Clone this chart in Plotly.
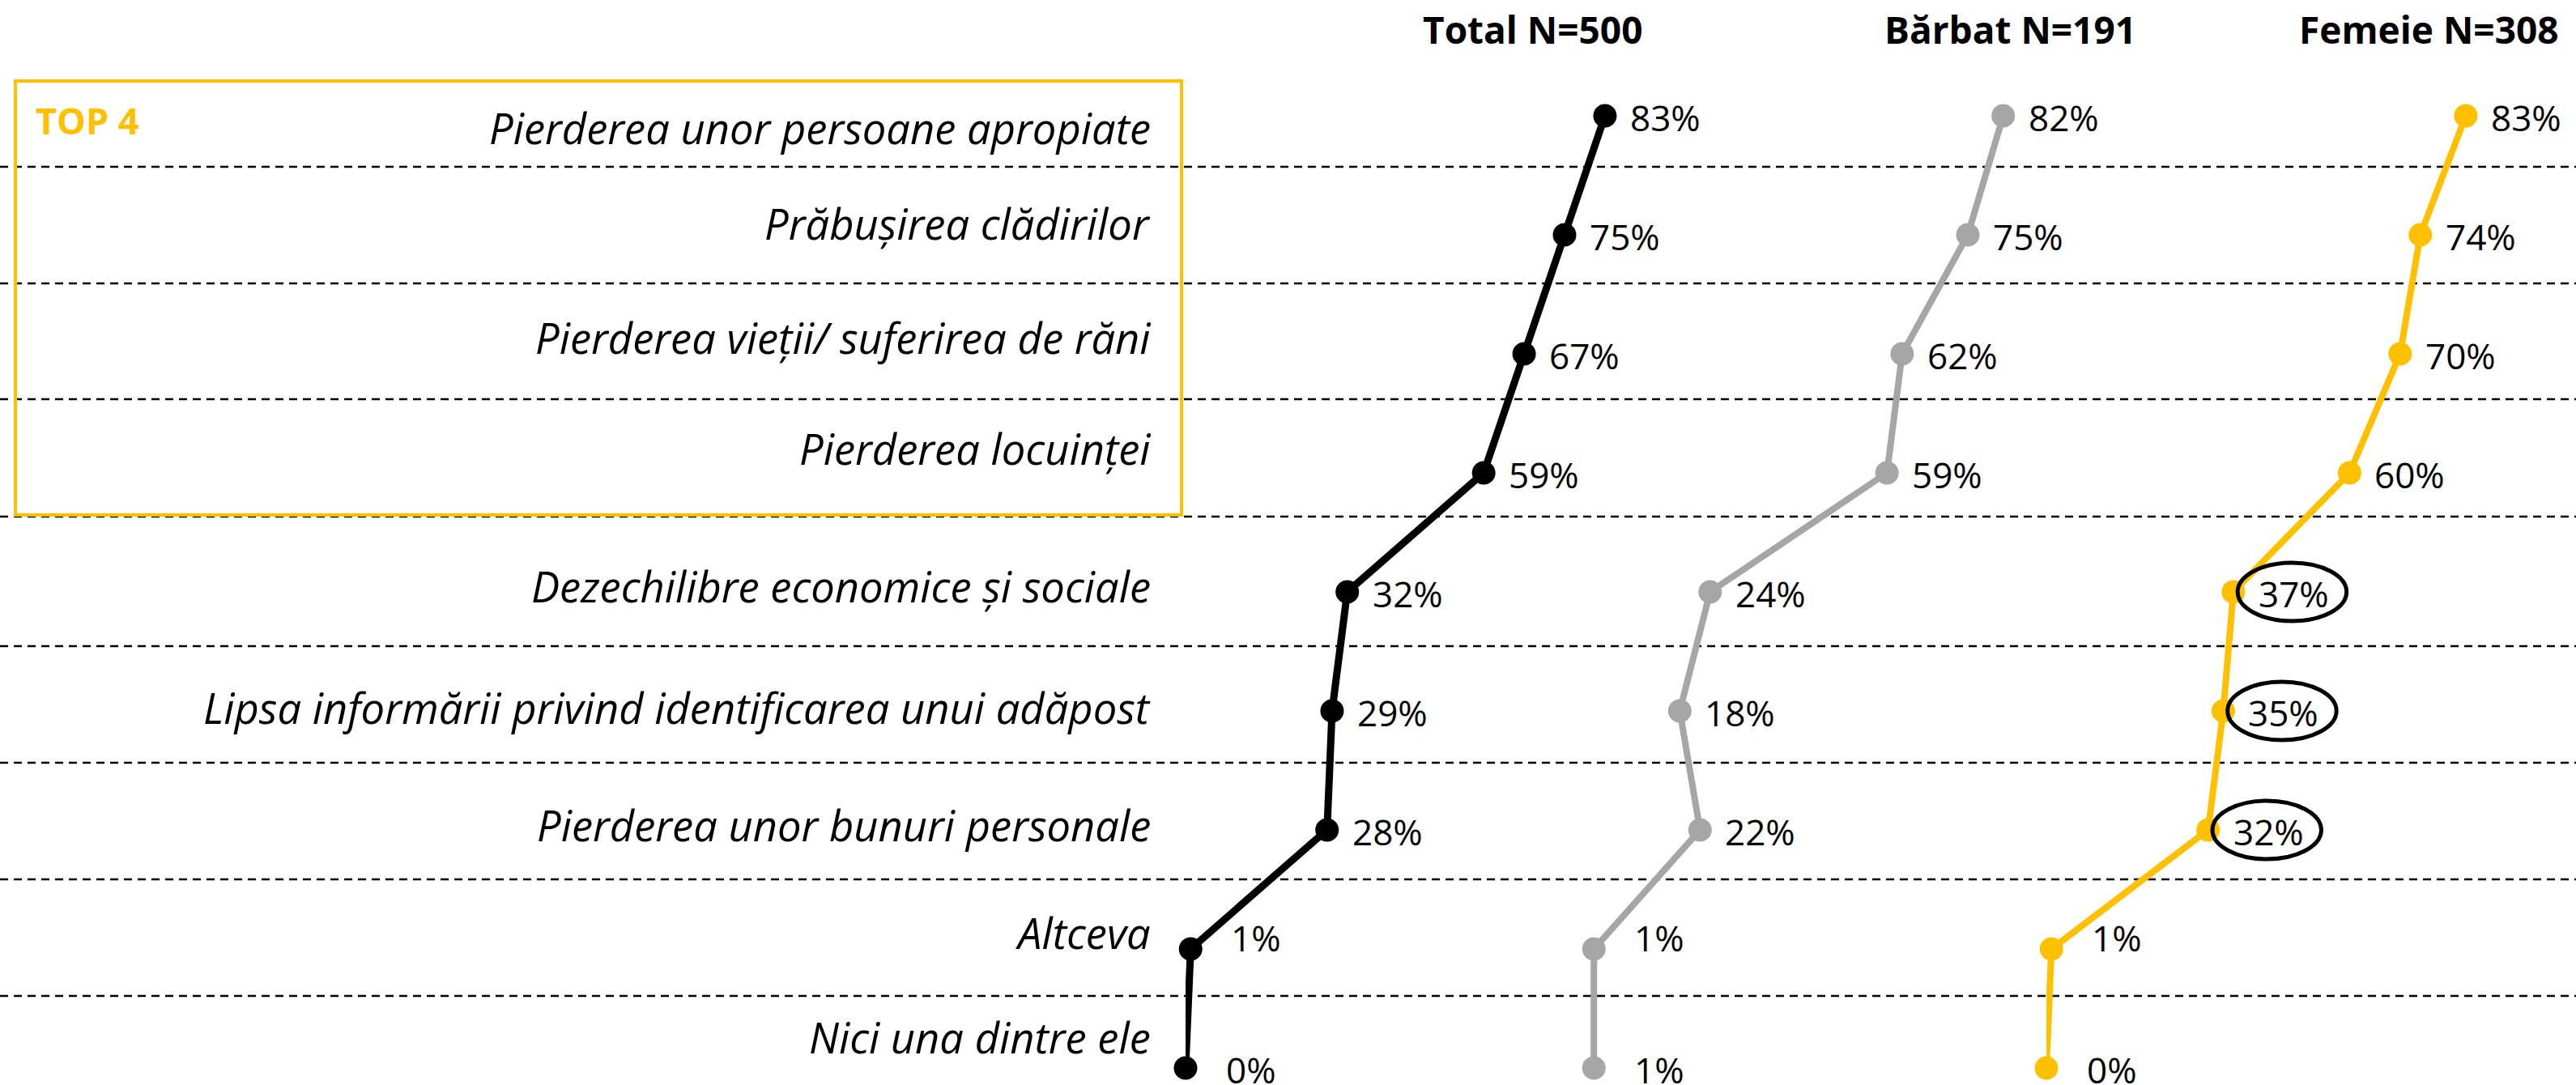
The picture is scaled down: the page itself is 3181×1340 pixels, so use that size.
import plotly.graph_objects as go

W, H = 3181, 1340

categories = [
    "Pierderea unor persoane apropiate",
    "Prăbușirea clădirilor",
    "Pierderea vieții/ suferirea de răni",
    "Pierderea locuinței",
    "Dezechilibre economice și sociale",
    "Lipsa informării privind identificarea unui adăpost",
    "Pierderea unor bunuri personale",
    "Altceva",
    "Nici una dintre ele",
]
total = [83, 75, 67, 59, 32, 29, 28, 1, 0]
barbat = [82, 75, 62, 59, 24, 18, 22, 1, 1]
femeie = [83, 74, 70, 60, 37, 35, 32, 1, 0]
series_names = ["Total N=500", "Bărbat N=191", "Femeie N=308"]
highlighted_femeie = ["Dezechilibre economice și sociale",
                      "Lipsa informării privind identificarea unui adăpost",
                      "Pierderea unor bunuri personale"]

YELLOW = "#FFC000"
GRAY = "#A6A6A6"
BLACK = "#000000"
FONT = "Open Sans"

# layout geometry (pixels)
px_per_pct = 6.24
zeros_px = [1464, 1962, 2527]
xr = 100
# vertical offset (px, downwards) of each category label relative to its row
label_offsets_px = [14, -15, -21, -31, -8, -5, -7, -21, -39]
# per-row placement of the percentage labels (px right of point, px up)
pct_dx_px = [29, 29, 29, 29, 29, 29, 29, 48, 48]
pct_dy_px = [-2, -2, -2, -2, -2, -2, -2, 14, -2]

def dom(z):
    return [z / W, (z + px_per_pct * xr) / W]

fig = go.Figure()
panels = [(total, BLACK, 9, "x"), (barbat, GRAY, 8, "x2"), (femeie, YELLOW, 8, "x3")]
for (vals, col, lw, xref), name in zip(panels, series_names):
    fig.add_trace(go.Scatter(
        x=vals, y=categories, xaxis=xref, yaxis="y", mode="lines+markers",
        line=dict(color=col, width=lw), marker=dict(color=col, size=29),
        cliponaxis=False, showlegend=False, name=name, hoverinfo="skip"))
    for v, c, dx, dy in zip(vals, categories, pct_dx_px, pct_dy_px):
        fig.add_annotation(x=v, y=c, xref=xref, yref="y", text=f"{v}%",
                           showarrow=False, xanchor="left", yanchor="middle",
                           xshift=dx, yshift=dy,
                           font=dict(family=FONT, size=44, color="#000000"))

# headers
header_centers = [1893, 2482, 2999]
for name, cx in zip(series_names, header_centers):
    fig.add_annotation(x=cx / W, y=1 - 36 / H, xref="paper", yref="paper",
                       text=f"<b>{name}</b>", showarrow=False,
                       xanchor="center", yanchor="middle",
                       font=dict(family=FONT, size=46, color="#000000"))

# category labels
for c, off in zip(categories, label_offsets_px):
    fig.add_annotation(x=1423 / W, y=c, xref="paper", yref="y", text=f"<i>{c}</i>",
                       showarrow=False, xanchor="right", yanchor="middle", yshift=-off,
                       font=dict(family=FONT, size=52.5, color="#000000"))

# TOP 4 label
fig.add_annotation(x=42 / W, y=1 - 149 / H, xref="paper", yref="paper",
                   text="<b>TOP 4</b>", showarrow=False, xanchor="left", yanchor="middle",
                   font=dict(family=FONT, size=45, color=YELLOW))

# dashed separators
sep_px = [206, 350, 493, 638, 798, 942, 1086, 1230]
for yp in sep_px:
    fig.add_shape(type="line", xref="paper", yref="paper", x0=0, x1=1,
                  y0=1 - yp / H, y1=1 - yp / H,
                  line=dict(color=BLACK, width=2.5, dash="10px,7px"), layer="below")

# yellow box
fig.add_shape(type="rect", xref="paper", yref="paper",
              x0=19 / W, x1=1459 / W, y0=1 - 636 / H, y1=1 - 100 / H,
              line=dict(color=YELLOW, width=4))

# highlight ellipses on Femeie
for c in highlighted_femeie:
    i = categories.index(c)
    v = femeie[i]
    fig.add_shape(type="circle", xref="x3", yref="y",
                  x0=v + 0.85, x1=v + 22.4, y0=i - 0.245, y1=i + 0.245,
                  line=dict(color=BLACK, width=5))

row_px = 147
top_px = 143
r0 = -top_px / row_px
r1 = r0 + H / row_px

axis_common = dict(range=[0, xr], visible=False, showgrid=False, zeroline=False, fixedrange=True)
fig.update_layout(
    width=W, height=H, margin=dict(l=0, r=0, t=0, b=0),
    paper_bgcolor="white", plot_bgcolor="rgba(0,0,0,0)",
    xaxis=dict(domain=dom(zeros_px[0]), anchor="y", **axis_common),
    xaxis2=dict(domain=dom(zeros_px[1]), anchor="y", **axis_common),
    xaxis3=dict(domain=dom(zeros_px[2]), anchor="y", **axis_common),
    yaxis=dict(type="category", categoryorder="array", categoryarray=categories,
               range=[r1, r0], visible=False, showgrid=False, zeroline=False,
               anchor="x", domain=[0, 1]),
    font=dict(family=FONT),
    hovermode=False,
)

fig.write_html("out.html", config={"displayModeBar": False, "staticPlot": True},
               post_script="document.body.style.margin='0';document.body.style.overflow='hidden';")
